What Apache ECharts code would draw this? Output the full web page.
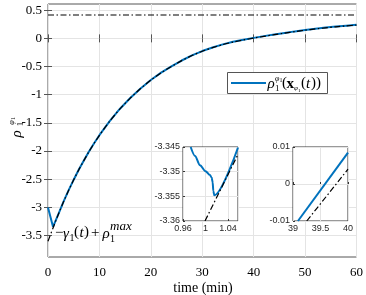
<!DOCTYPE html>
<html><head><meta charset="utf-8">
<script src="https://cdn.jsdelivr.net/npm/echarts@6/dist/echarts.min.js"></script>
<style>html,body{margin:0;padding:0;background:#fff}#c{width:366px;height:295px}</style>
</head><body><div id="c"></div>
<script>
// ---- data ----
const gammaT = [0,1,2,3,4,5,6,7,8,9,10,12,14,16,18,20,22,24,26,28,30,32,34,36,38,40,42,44,46,48,50,52,54,56,58,60];
const gammaV = [-3.60,-3.36,-3.125,-2.905,-2.70,-2.51,-2.33,-2.165,-2.005,-1.86,-1.72,-1.47,-1.25,-1.06,-0.89,-0.74,-0.61,-0.50,-0.395,-0.305,-0.228,-0.165,-0.11,-0.065,-0.028,0.005,0.036,0.065,0.093,0.12,0.145,0.167,0.187,0.205,0.221,0.236];
const rhoT = [0,0.974,1.016,2,3,4,5,6,7,8,9,10,12,14,16,18,20,22,24,26,28,30,32,34,36,38,40,42,44,46,48,50,52,54,56,58,60];
const rhoV = [-3.0,-3.345,-3.355,-3.123,-2.903,-2.698,-2.508,-2.328,-2.163,-2.003,-1.858,-1.718,-1.468,-1.248,-1.058,-0.888,-0.738,-0.608,-0.498,-0.393,-0.302,-0.225,-0.162,-0.107,-0.061,-0.024,0.009,0.040,0.069,0.097,0.124,0.149,0.171,0.191,0.209,0.225,0.240];
const rhoMax = 0.415;
const xTicks = [0,10,20,30,40,50,60];
const yTicks = [-3.5,-3,-2.5,-2,-1.5,-1,-0.5,0,0.5];
// inset 1 (around t = 1)
const in1BlueT = [0.9737,0.9814,0.9903,1.0002,1.0081,1.0111,1.0129,1.0140,1.0158,1.058];
const in1BlueV = [-3.345,-3.3468,-3.3487,-3.3499,-3.3507,-3.3512,-3.3522,-3.3539,-3.3548,-3.3451];
const in1BlackT = [0.9992,1.058];
const in1BlackV = [-3.3600,-3.3465];
// inset 2 (around t = 39.5)
const in2BlueT = [39.09,40];
const in2BlueV = [-0.01,0.0085];
const in2BlackT = [39.25,40];
const in2BlackV = [-0.01,0.004];

const zip = (a,b) => a.map((t,i) => [t,b[i]]);
const serif = 'Liberation Serif';
const sans = 'Liberation Sans';
const gridColor = '#e4e4e4';
const boxColor = '#555';
const blue = '#0072BD';
const dashDot = [6,2.5,1.5,2.5];
const fmt = v => String(+(+v).toFixed(4));

const chart = echarts.init(document.getElementById('c'), null, {renderer:'canvas', width:366, height:295});

const insetX = (gi, min, max, interval) => ({
  gridIndex: gi, type:'value', min, max, interval, z: 6,
  axisLine:{show:false}, axisTick:{show:true, inside:true, length:2, lineStyle:{color:'#333'}},
  axisLabel:{fontFamily:sans, fontSize:9, color:'#262626', margin:3, formatter: fmt, showMaxLabel: max===40},
  splitLine:{show:true, lineStyle:{color:gridColor, width:1}}
});
const insetY = (gi, min, max, interval) => ({
  gridIndex: gi, type:'value', min, max, interval, z: 6,
  axisLine:{show:false}, axisTick:{show:true, inside:true, length:2, lineStyle:{color:'#333'}},
  axisLabel:{fontFamily:sans, fontSize:9, color:'#262626', margin:3, formatter: fmt},
  splitLine:{show:true, lineStyle:{color:gridColor, width:1}}
});

const T = (x, y, text, font) => ({
  type:'text', z:30, style:{x, y, text, font, fill:'#000', align:'left', verticalAlign:'middle'}
});

const option = {
  animation:false,
  backgroundColor:'#fff',
  grid:[
    {left:48, top:4, width:309, height:253, show:true, borderColor:boxColor, borderWidth:1, backgroundColor:'#fff'},
    {left:183, top:147, width:55, height:74, show:true, borderColor:'#333', borderWidth:1, backgroundColor:'#fff', z:5},
    {left:293, top:147, width:55, height:74, show:true, borderColor:'#333', borderWidth:1, backgroundColor:'#fff', z:5}
  ],
  xAxis:[
    {gridIndex:0, type:'value', min:0, max:60, interval:10, position:'bottom',
     axisLine:{show:false}, axisTick:{show:true, inside:true, length:4, lineStyle:{color:boxColor}},
     axisLabel:{fontFamily:serif, fontSize:13, color:'#000', margin:9},
     splitLine:{show:true, lineStyle:{color:gridColor}}},
    {gridIndex:0, type:'value', min:0, max:60, interval:10, position:'top',
     axisLine:{show:false}, axisTick:{show:true, inside:true, length:4, lineStyle:{color:boxColor}},
     axisLabel:{show:false}, splitLine:{show:false}},
    insetX(1, 0.96, 1.058, 0.04),
    insetX(2, 39, 40, 0.5)
  ],
  yAxis:[
    {gridIndex:0, type:'value', min:-3.88, max:0.61, position:'left',
     axisLine:{show:false}, axisTick:{show:true, inside:true, length:4, customValues:yTicks, lineStyle:{color:boxColor}},
     axisLabel:{fontFamily:serif, fontSize:13, color:'#000', margin:6, customValues:yTicks},
     splitLine:{show:true, lineStyle:{color:gridColor}}},
    {gridIndex:0, type:'value', min:-3.88, max:0.61, position:'right',
     axisLine:{show:false}, axisTick:{show:true, inside:true, length:4, customValues:yTicks, lineStyle:{color:boxColor}},
     axisLabel:{show:false, customValues:yTicks}, splitLine:{show:false}},
    insetY(1, -3.36, -3.345, 0.005),
    insetY(2, -0.01, 0.01, 0.01)
  ],
  series:[
    {type:'line', xAxisIndex:0, yAxisIndex:0, data:zip(rhoT,rhoV), symbol:'none', z:2,
     lineStyle:{color:blue, width:2}},
    {type:'line', xAxisIndex:0, yAxisIndex:0, data:zip(gammaT,gammaV), symbol:'none', z:3, smooth:0.2,
     lineStyle:{color:'#000', width:1.2, type:dashDot}},
    {type:'line', xAxisIndex:0, yAxisIndex:0, data:[[xTicks[0],rhoMax],[xTicks[xTicks.length-1],rhoMax]], symbol:'none', z:3,
     lineStyle:{color:'#000', width:1.2, type:dashDot}},
    {type:'line', xAxisIndex:2, yAxisIndex:2, data:zip(in1BlueT,in1BlueV), symbol:'none', z:10, smooth:0.3, smoothMonotone:'x',
     lineStyle:{color:blue, width:2}},
    {type:'line', xAxisIndex:2, yAxisIndex:2, data:zip(in1BlackT,in1BlackV), symbol:'none', z:11,
     lineStyle:{color:'#000', width:1.2, type:dashDot}},
    {type:'line', xAxisIndex:3, yAxisIndex:3, data:zip(in2BlueT,in2BlueV), symbol:'none', z:10,
     lineStyle:{color:blue, width:2}},
    {type:'line', xAxisIndex:3, yAxisIndex:3, data:zip(in2BlackT,in2BlackV), symbol:'none', z:11,
     lineStyle:{color:'#000', width:1.2, type:dashDot}}
  ],
  graphic:[
    // legend
    {type:'rect', z:20, shape:{x:227.5, y:72.5, width:100, height:21}, style:{fill:'#fff', stroke:'#555', lineWidth:1}},
    {type:'line', z:21, shape:{x1:231, y1:83, x2:266, y2:83}, style:{stroke:blue, lineWidth:2}},
    T(267.5, 84, 'ρ', 'italic 15px ' + serif),
    T(275, 78.5, 'φ', 'italic 8px ' + serif),
    T(279.5, 80.5, '1', '6px ' + serif),
    T(275, 88.5, '1', '9px ' + serif),
    T(282, 83.5, '(', '15px ' + serif),
    T(286.5, 84, 'x', 'bold 15px ' + serif),
    T(294, 88.5, 'φ', 'italic 7px ' + serif),
    T(298, 90.5, '1', '5px ' + serif),
    T(301, 83.5, '(', '15px ' + serif),
    T(306, 84, 't', 'italic 15px ' + serif),
    T(311, 83.5, '))', '15px ' + serif),
    // annotation
    T(55, 233, '−', '15px ' + serif),
    T(63, 234, 'γ', 'italic 15px ' + serif),
    T(69.5, 238.5, '1', '10px ' + serif),
    T(74, 232.5, '(', '15px ' + serif),
    T(79.5, 233, 't', 'italic 15px ' + serif),
    T(84, 232.5, ')', '15px ' + serif),
    T(91, 233, '+', '15px ' + serif),
    T(102.5, 234, 'ρ', 'italic 15px ' + serif),
    T(110, 239, '1', '10px ' + serif),
    T(110, 227, 'max', 'italic 13px ' + serif),
    // x axis name
    {type:'text', z:30, style:{x:203, y:288, text:'time (min)', font:'14px ' + serif, fill:'#000', align:'center', verticalAlign:'middle'}},
    // y axis name (rotated)
    {type:'group', x:16, y:127, rotation:Math.PI/2, z:30, children:[
      {type:'text', style:{x:-7, y:1, text:'ρ', font:'italic 15px ' + serif, fill:'#000', align:'center', verticalAlign:'middle'}},
      {type:'text', style:{x:3, y:5, text:'1', font:'9px ' + serif, fill:'#000', align:'center', verticalAlign:'middle'}},
      {type:'text', style:{x:4.5, y:-4.5, text:'φ', font:'italic 8px ' + serif, fill:'#000', align:'center', verticalAlign:'middle'}},
      {type:'text', style:{x:8.5, y:-2.5, text:'1', font:'6px ' + serif, fill:'#000', align:'center', verticalAlign:'middle'}}
    ]}
  ]
};
chart.setOption(option);
</script>
</body></html>
